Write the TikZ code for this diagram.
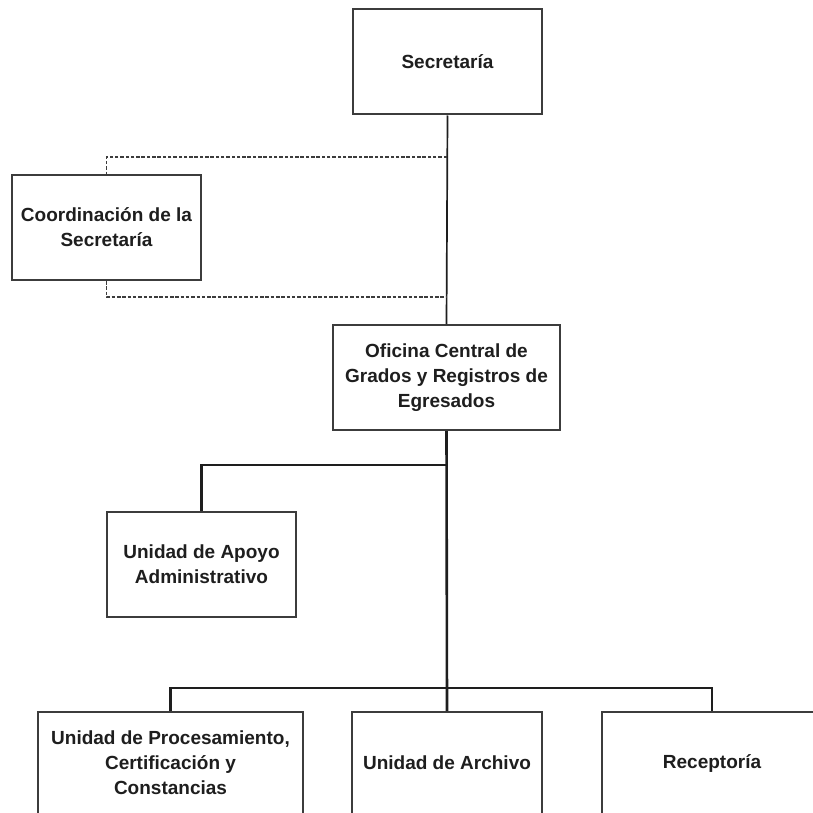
\documentclass[tikz,border=0pt]{standalone}
\usepackage{fontspec}
\setmainfont{Liberation Sans}
\begin{document}
\begin{tikzpicture}[
  x=1pt, y=-1pt,
  every node/.style={inner sep=0pt},
  unit/.style={draw=boxline, line width=2pt, fill=white, align=center,
    text=ink, font=\fontsize{19}{25}\selectfont\bfseries,
    minimum width=189, minimum height=105},
  link/.style={draw=ink, line width=1.7pt},
  heavy/.style={draw=ink, line width=2.6pt},
  staff/.style={draw=boxline, line width=1.5pt, dash pattern=on 3.5pt off 1.8pt},
]

\definecolor{ink}{HTML}{1E1E1E}
\definecolor{boxline}{HTML}{3C3C3C}

\useasboundingbox[fill=white] (0,0) rectangle (812,813);

% boxes
\node[unit] (sec)   at (447.5,62)  {Secretaría};
\node[unit] (coord) at (106.5,227.5) {Coordinación de la\\Secretaría};
\node[unit, minimum width=227] (ofi) at (446.5,377.5)
  {Oficina Central de\\Grados y Registros de\\Egresados};
\node[unit] (apoyo) at (201.5,564.5) {Unidad de Apoyo\\Administrativo};

\node[unit, minimum width=265, minimum height=102] (proc) at (170.5,763)
  {Unidad de Procesamiento,\\Certificación y\\Constancias};
\node[unit, minimum width=190, minimum height=102] (arch) at (447,763)
  {Unidad de Archivo};
\node[unit, minimum width=220, minimum height=102] (recep) at (712,763)
  {Receptoría};

% junctions on the trunk
\coordinate (dtop) at (447,157);
\coordinate (dbot) at (447,297);
\coordinate (jA)   at (447,465);
\coordinate (jB)   at (447,688);

% lines
\draw[link] (sec.south) -- (ofi.north);
\draw[staff] (dtop) -| (coord.north);
\draw[staff] (coord.south) |- (dbot);

\draw[heavy] (ofi.south) -- (arch.north);
\draw[heavy] (jA) -| (apoyo.north);
\draw[heavy] (proc.north) |- (jB) -| (recep.north);

\end{tikzpicture}
\end{document}
